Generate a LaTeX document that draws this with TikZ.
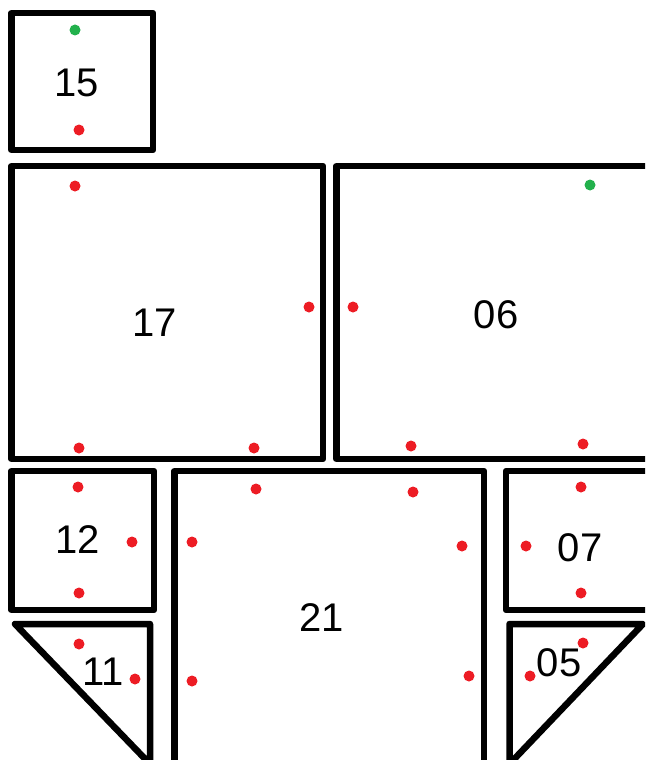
\documentclass[tikz,border=0pt]{standalone}
\usepackage{fontspec}
\setmainfont{Liberation Sans}
\usepackage{tikz}
\definecolor{pinRed}{HTML}{ED1C24}
\definecolor{pinGreen}{HTML}{22B14C}
\tikzset{
  piece/.style={draw=black,line width=6.5pt,line join=round},
  reddot/.style={circle,fill=pinRed,inner sep=0pt,minimum size=11pt},
  greendot/.style={circle,fill=pinGreen,inner sep=0pt,minimum size=11pt},
  piecelabel/.style={inner sep=0pt,font=\fontsize{40}{44}\selectfont}
}

\begin{document}
\begin{tikzpicture}[x=1pt,y=-1pt]
\useasboundingbox (0,0) rectangle (645,760);
\clip (0,0) rectangle (645,760);
% pieces
\draw[piece] (11.5,13) rectangle (153,150);
\draw[piece] (11.5,166) rectangle (323,459);
\draw[piece] (336.5,166) rectangle (660,459);
\draw[piece] (11.5,471) rectangle (154,610);
\draw[piece] (174.5,471) rectangle (484,780);
\draw[piece] (506,471) rectangle (660,610);
\draw[piece] (15,624) -- (150,624) -- (150,764) -- cycle;
\draw[piece] (509.5,624) -- (643,624) -- (509.5,764) -- cycle;
% labels
\node[piecelabel] (p15) at (77,83) {15};
\node[piecelabel] (p17) at (155,323) {17};
\node[piecelabel] (p06) at (496,315) {06};
\node[piecelabel] (p12) at (78,540) {12};
\node[piecelabel] (p21) at (322,618) {21};
\node[piecelabel] (p07) at (580,548) {07};
\node[piecelabel] (p11) at (103,672) {11};
\node[piecelabel] (p05) at (559,663) {05};
% pins
\node[greendot] (g1) at (75,30) {};
\node[greendot] (g2) at (590,185) {};
\foreach \px/\py [count=\i] in {79/130, 75/186, 309/307, 79/448, 254/448,
    353/307, 411/446, 583/444, 78/487, 132/542, 79/593,
    256/489, 413/492, 192/542, 462/546, 192/681, 469/676,
    581/487, 526/546, 581/593, 79/644, 135/679, 583/643, 530/676}
  \node[reddot] (r\i) at (\px,\py) {};
\end{tikzpicture}
\end{document}
